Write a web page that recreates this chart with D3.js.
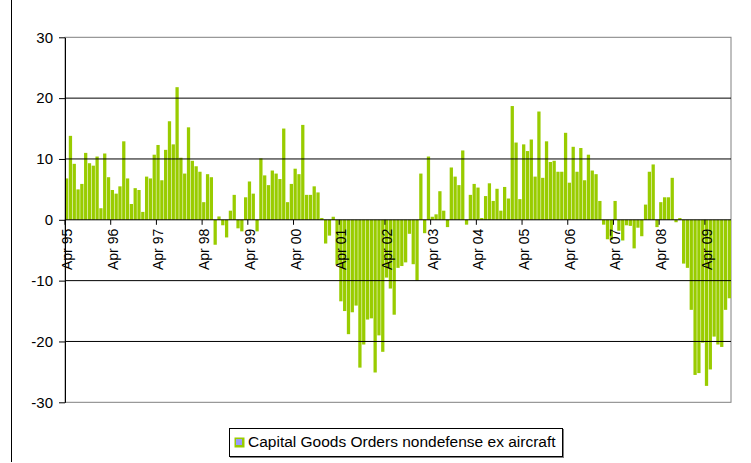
<!DOCTYPE html>
<html lang="en">
<head>
    <meta charset="UTF-8">
    <title>Capital Goods Orders nondefense ex aircraft</title>
    <script src="https://d3js.org/d3.v7.min.js"></script>
    <style>
        body {
            margin: 0;
            background: #fff;
        }
        svg text {
            font-family: Arial, "Liberation Sans", sans-serif;
            fill: #000;
        }
    </style>
</head>
<body>
    <script>
        // Monthly values, Apr 95 .. Oct 09 (year-over-year % change)
        const values = [
            6.8, 13.8, 9.2, 5.0, 5.9, 11.0, 9.3, 8.9, 10.4, 1.9, 10.9, 7.0,
            4.9, 4.3, 5.5, 12.9, 6.8, 2.6, 5.2, 4.9, 1.3, 7.1, 6.8, 10.7,
            12.3, 6.5, 11.5, 16.2, 12.4, 21.8, 10.2, 7.6, 15.2, 9.7, 8.8, 7.9,
            2.9, 7.5, 7.0, -4.1, 0.55, -0.9, -2.9, 1.5, 4.1, -1.4, -1.9, 3.7,
            6.3, 4.3, -1.9, 10.1, 7.3, 5.7, 8.1, 7.6, 6.7, 15.0, 2.9, 5.9,
            8.4, 7.5, 15.6, 4.1, 4.1, 5.5, 4.5, 0.3, -3.9, -2.6, 0.5, -7.4,
            -13.4, -15.0, -18.8, -15.2, -14.1, -24.3, -20.5, -16.4, -16.2, -25.1, -19.0, -21.7,
            -9.5, -11.3, -15.6, -7.9, -7.6, -7.0, -2.3, -7.3, -10.0, 7.6, -2.2, 10.4,
            0.5, 0.9, 4.7, 1.5, -1.2, 8.6, 7.1, 5.7, 11.4, -0.8, 4.1, 5.9,
            5.3, 0.3, 3.9, 6.0, 3.1, 5.1, 1.5, 5.4, 3.5, 18.7, 12.7, 3.4,
            12.4, 11.3, 13.2, 7.1, 17.8, 6.9, 12.9, 9.5, 9.7, 7.9, 7.9, 14.3,
            6.1, 12.0, 7.9, 11.8, 6.5, 10.7, 8.1, 7.5, 3.1, -0.8, -3.2, -3.3,
            3.1, -1.8, -3.4, -0.9, -1.0, -4.7, -1.3, -2.7, 2.5, 7.9, 9.1, -1.2,
            2.9, 3.7, 3.7, 6.9, -0.4, 0.3, -7.2, -7.9, -14.8, -25.5, -25.2, -20.2,
            -27.3, -24.6, -19.2, -20.5, -20.9, -14.8, -12.9
        ];

        // One label every 12 months, starting at the first bar
        const tickLabels = ["Apr 95", "Apr 96", "Apr 97", "Apr 98", "Apr 99", "Apr 00", "Apr 01",
            "Apr 02", "Apr 03", "Apr 04", "Apr 05", "Apr 06", "Apr 07", "Apr 08", "Apr 09"];
        const yTicks = [-30, -20, -10, 0, 10, 20, 30];
        const seriesName = "Capital Goods Orders nondefense ex aircraft";

        const width = 751;
        const height = 463;
        const plot = { left: 65, right: 731, top: 37.3, bottom: 402.3 };

        const svg = d3.select("body").append("svg")
            .attr("width", width)
            .attr("height", height);

        // Chart area border (only the left edge is in frame)
        svg.append("line")
            .attr("x1", 11.5).attr("x2", 11.5)
            .attr("y1", 0).attr("y2", 462)
            .attr("stroke", "#000");

        const x = d3.scaleBand()
            .domain(d3.range(values.length))
            .range([plot.left, plot.right])
            .paddingInner(0.14)
            .paddingOuter(0);

        const y = d3.scaleLinear()
            .domain([-30, 30])
            .range([plot.bottom, plot.top]);

        // Plot area frame (gray)
        svg.append("rect")
            .attr("x", plot.left)
            .attr("y", plot.top)
            .attr("width", plot.right - plot.left)
            .attr("height", plot.bottom - plot.top)
            .attr("fill", "none")
            .attr("stroke", "#808080");

        // Bars
        svg.append("g")
            .selectAll("rect")
            .data(values)
            .join("rect")
            .attr("x", (d, i) => x(i))
            .attr("width", x.bandwidth())
            .attr("y", d => y(Math.max(0, d)))
            .attr("height", d => Math.abs(y(d) - y(0)))
            .attr("fill", "#99CC00");

        // Gridlines
        svg.append("g")
            .selectAll("line")
            .data(yTicks.filter(d => d !== 0 && d !== -30 && d !== 30))
            .join("line")
            .attr("x1", plot.left).attr("x2", plot.right)
            .attr("y1", d => y(d)).attr("y2", d => y(d))
            .attr("stroke", "#000");

        // Y axis
        const yAxis = svg.append("g")
            .attr("transform", `translate(${plot.left},0)`)
            .call(d3.axisLeft(y)
                .tickValues(yTicks)
                .tickFormat(d => String(d))
                .tickSize(6)
                .tickSizeOuter(0)
                .tickPadding(6));
        yAxis.select(".domain").attr("stroke", "#000");
        yAxis.selectAll(".tick line").attr("stroke", "#000");
        yAxis.selectAll("text")
            .attr("font-size", "15px")
            .attr("fill", "#000");

        // Zero line
        svg.append("line")
            .attr("x1", plot.left).attr("x2", plot.right)
            .attr("y1", y(0)).attr("y2", y(0))
            .attr("stroke", "#000");

        // Category ticks + rotated labels
        const xTicks = svg.append("g")
            .selectAll("g")
            .data(tickLabels)
            .join("g")
            .attr("transform", (d, i) => `translate(${x(i * 12)},${y(0)})`);

        xTicks.append("line")
            .attr("y1", 0).attr("y2", 5)
            .attr("stroke", "#000");

        xTicks.append("text")
            .attr("transform", "translate(7,9) rotate(-90)")
            .attr("text-anchor", "end")
            .attr("font-size", "14px")
            .text(d => d);

        // Legend
        const legend = svg.append("g");
        legend.append("rect")
            .attr("x", 230.5).attr("y", 429.5)
            .attr("width", 333).attr("height", 28)
            .attr("fill", "none")
            .attr("stroke", "#808080");
        legend.append("rect")
            .attr("x", 229.5).attr("y", 428.5)
            .attr("width", 333).attr("height", 28)
            .attr("fill", "#fff")
            .attr("stroke", "#000");
        legend.append("rect")
            .attr("x", 234.5).attr("y", 437.5)
            .attr("width", 10).attr("height", 10)
            .attr("fill", "#99CC00");
        legend.append("rect")
            .attr("x", 236).attr("y", 439)
            .attr("width", 6).attr("height", 6)
            .attr("fill", "#9999FF");
        legend.append("text")
            .attr("x", 248)
            .attr("y", 447)
            .attr("font-size", "15.5px")
            .text(seriesName);
    </script>
</body>
</html>
